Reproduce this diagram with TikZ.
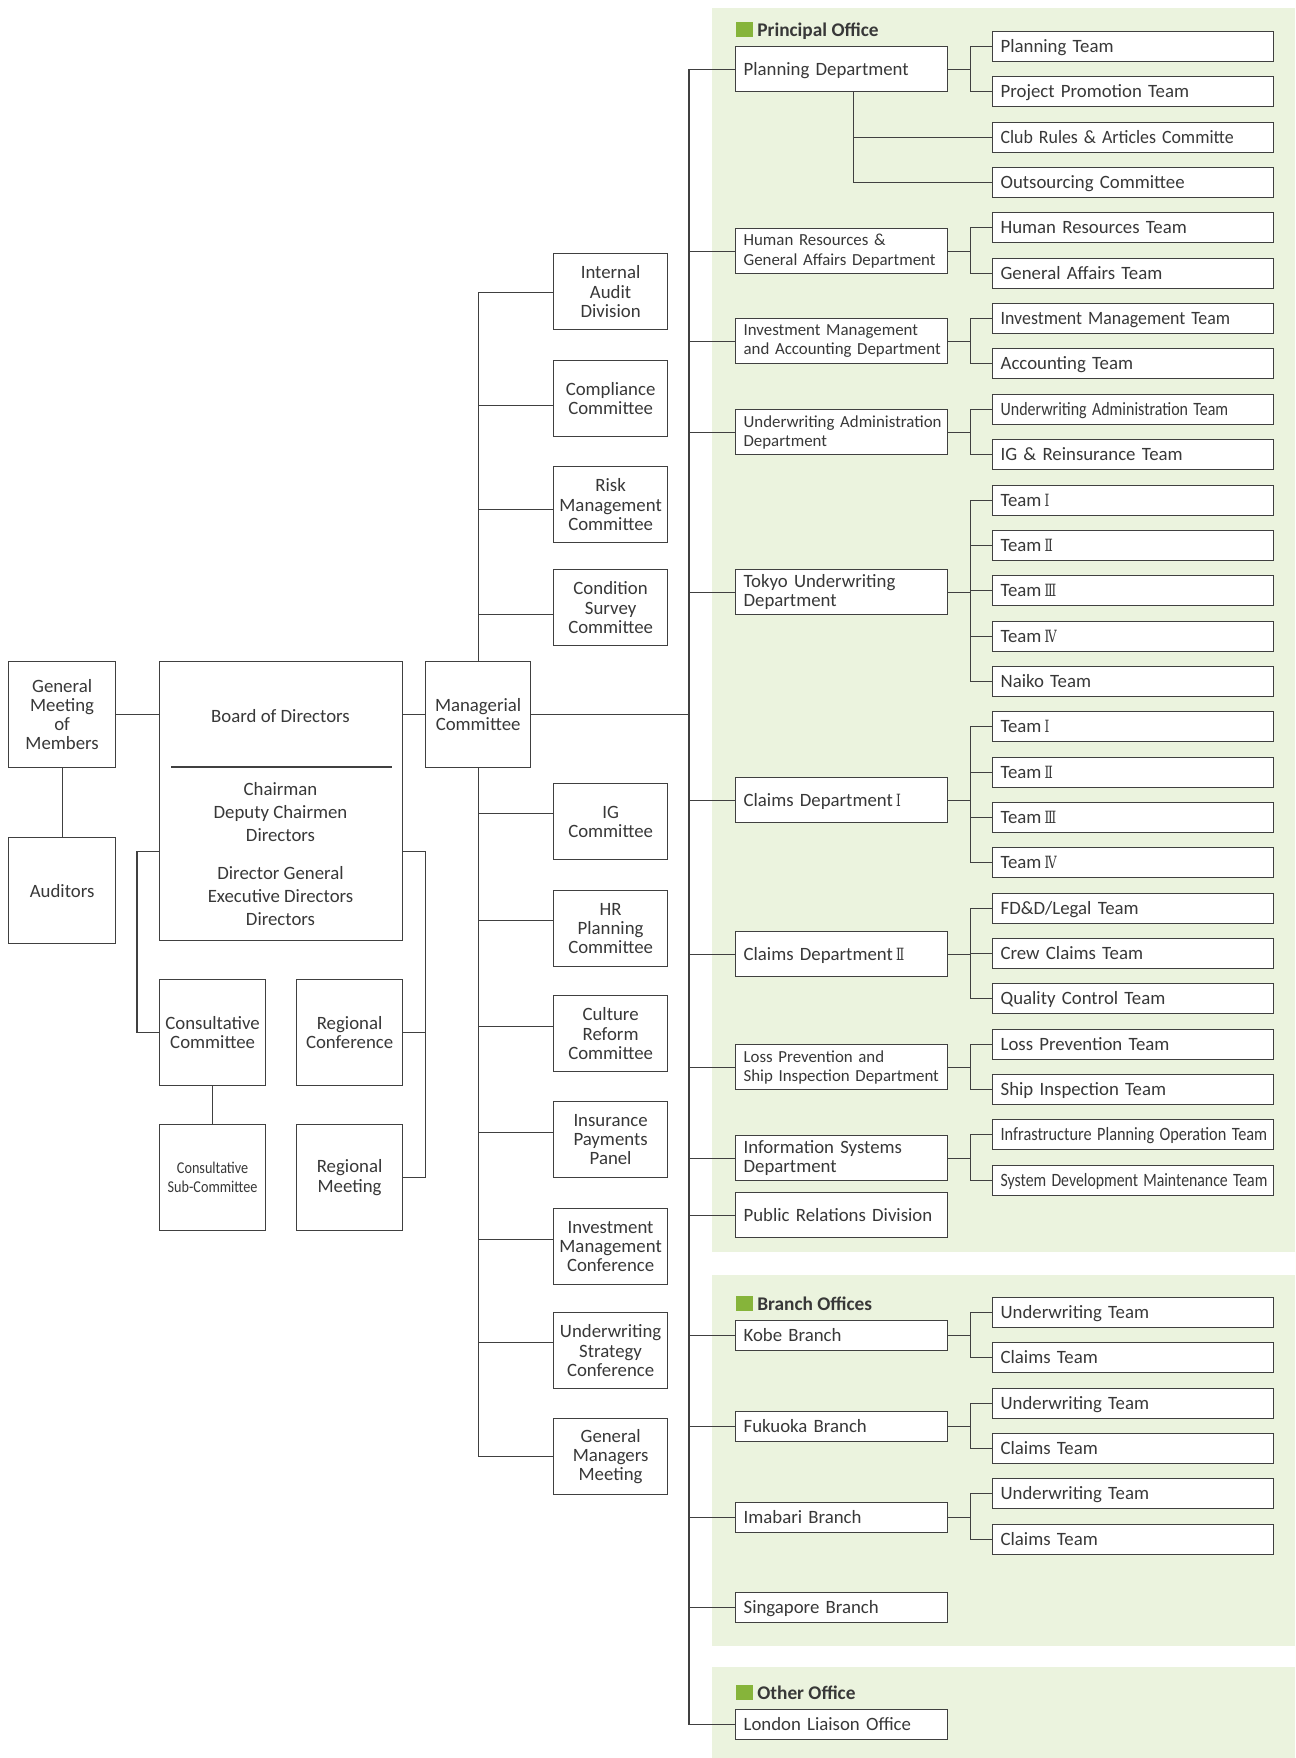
\documentclass[tikz,border=0pt]{standalone}
\usepackage{fontspec}
\usepackage{graphicx}
\setmainfont{Carlito}
\newfontfamily\rmn{DejaVu Serif}
\usetikzlibrary{calc}
\definecolor{panel}{HTML}{EBF3DE}
\definecolor{sq}{HTML}{86B43A}
\definecolor{ln}{HTML}{404040}
\definecolor{tx}{HTML}{383838}
\newcommand\fs{\fontsize{10.7}{10.9}\selectfont}
\newcommand\fsb{\fontsize{9.6}{10.9}\selectfont}
\newcommand\fsl{\fontsize{10.7}{13.1}\selectfont}
\newcommand\sx[2]{\scalebox{#1}[1]{#2}}
\newcommand\rn[1]{\,{\rmn\fontsize{9.6}{10}\selectfont\sx{0.72}{#1}}}
\newcommand\rI{\rn{Ⅰ}}
\newcommand\rII{\rn{Ⅱ}}
\newcommand\rIII{\rn{Ⅲ}}
\newcommand\rIV{\rn{Ⅳ}}
\begin{document}
\begin{tikzpicture}[x=0.02cm,y=-0.02cm,
  every node/.style={text=tx},
  bx/.style={draw=ln,line width=0.7pt,fill=white,inner sep=0pt,font=\fs},
  sqbox/.style={bx,anchor=north west,minimum width=2.14cm,minimum height=2.12cm,align=center},
  midbox/.style={bx,anchor=north west,minimum width=2.28cm,minimum height=1.52cm,align=center},
  dept/.style={bx,anchor=north west,text width=3.92cm,inner xsep=0.16cm,minimum height=0.9cm,align=left},
  dept1/.style={dept,text height=0.72em,text depth=0pt},
  deptsm/.style={dept,font=\fsb},
  brn/.style={dept1,minimum height=0.6cm},
  team/.style={bx,anchor=north west,text width=5.3cm,inner xsep=0.16cm,minimum height=0.6cm,align=left,text height=0.72em,text depth=0pt},
  cn/.style={draw=ln,line width=0.6pt},
  ttl/.style={anchor=base west,inner sep=0pt,font=\bfseries\fontsize{11}{11}\selectfont,text=tx},
  sqmark/.style={fill=sq,inner sep=0pt,minimum width=0.34cm,minimum height=0.3cm,anchor=north west}]
\useasboundingbox (0,0) rectangle (1295,1758);
% panels
\fill[panel] (712,8) rectangle (1295,1252);
\fill[panel] (712,1275) rectangle (1295,1646);
\fill[panel] (712,1667) rectangle (1295,1758);
\node[sqmark] (m1) at (736,22) {};
\node[ttl] (h1) at (757,36) {Principal Office};
\node[sqmark] (m2) at (736,1296) {};
\node[ttl] (h2) at (757,1310) {Branch Offices};
\node[sqmark] (m3) at (736,1685) {};
\node[ttl] (h3) at (757,1699) {Other Office};

% left part
\node[sqbox] (gm) at (8,661) {General\\Meeting\\of\\Members};
\node[sqbox] (aud) at (8,837) {Auditors};
\node[bx,anchor=north west,minimum width=4.86cm,minimum height=5.58cm] (board) at (159,661) {};
\node[inner sep=0pt,font=\fs] (bod) at (280.5,716) {Board of Directors};
\draw[ln,line width=0.6pt] ($(board.north west)+(12,106)$) -- ($(board.north east)+(-11,106)$);
\node[inner sep=0pt,font=\fsl,align=center] (bl1) at (280.5,812) {Chairman\\Deputy Chairmen\\Directors};
\node[inner sep=0pt,font=\fsl,align=center] (bl2) at (280.5,896) {Director General\\Executive Directors\\Directors};
\node[sqbox,minimum width=2.1cm] (mgr) at (425,661) {Managerial\\Committee};
\node[sqbox,minimum width=2.12cm] (cc) at (159,979) {Consultative\\Committee};
\node[sqbox,minimum width=2.12cm] (rc) at (296,979) {Regional\\Conference};
\node[sqbox,minimum width=2.12cm,font=\fontsize{9.4}{10.6}\selectfont] (csc) at (159,1124) {\sx{0.86}{Consultative}\\\sx{0.86}{Sub-Committee}};
\node[sqbox,minimum width=2.12cm] (rm) at (296,1124) {Regional\\Meeting};

\draw[cn] (gm.east) -- (gm.east -| board.west);
\draw[cn] (gm.south) -- (aud.north);
\draw[cn] (mgr.west -| board.east) -- (mgr.west);
\draw[cn] ($(board.south west)+(0,-90)$) -- ++(-22,0) |- (cc.west);
\draw[cn] ($(board.south east)+(0,-90)$) -- ++(22,0) |- (rc.east);
\draw[cn] ($(board.south east)+(0,-90)$) -- ++(22,0) |- (rm.east);
\draw[cn] (cc.south) -- (csc.north);

% middle column
\node[midbox] (ia) at (553,253) {Internal\\Audit\\Division};
\node[midbox] (cmp) at (553,360) {Compliance\\Committee};
\node[midbox] (rmc) at (553,466) {Risk\\Management\\Committee};
\node[midbox] (csv) at (553,569) {Condition\\Survey\\Committee};
\node[midbox] (ig) at (553,783) {IG\\Committee};
\node[midbox] (hrp) at (553,890) {HR\\Planning\\Committee};
\node[midbox] (crc) at (553,995) {Culture\\Reform\\Committee};
\node[midbox] (ipp) at (553,1101) {Insurance\\Payments\\Panel};
\node[midbox] (imc) at (553,1208) {Investment\\Management\\Conference};
\node[midbox] (usc) at (553,1312) {Underwriting\\Strategy\\Conference};
\node[midbox] (gmm) at (553,1418) {General\\Managers\\Meeting};

\draw[cn] ($(ia.west)+(0,1)$) -| (mgr.north);
\draw[cn] ($(cmp.west)+(0,7)$) -| (mgr.north);
\draw[cn] ($(rmc.west)+(0,5)$) -| (mgr.north);
\draw[cn] ($(csv.west)+(0,7)$) -| (mgr.north);
\draw[cn] (mgr.south) |- ($(ig.west)+(0,-8)$);
\draw[cn] (mgr.south) |- ($(hrp.west)+(0,-8)$);
\draw[cn] (mgr.south) |- ($(crc.west)+(0,-7)$);
\draw[cn] (mgr.south) |- ($(ipp.west)+(0,-7)$);
\draw[cn] (mgr.south) |- ($(imc.west)+(0,-7)$);
\draw[cn] (mgr.south) |- ($(usc.west)+(0,-8)$);
\draw[cn] (mgr.south) |- (gmm.west);

% departments
\coordinate (trunk) at (689,0);
\node[dept1] (pd) at (735,46) {Planning Department};
\node[deptsm] (hr) at (735,228) {\mbox{Human Resources \&}\\\mbox{General Affairs Department}};
\node[deptsm] (im) at (735,318) {\mbox{Investment Management}\\\mbox{and Accounting Department}};
\node[deptsm] (uwa) at (735,409) {\mbox{Underwriting Administration}\\\mbox{Department}};
\node[dept] (tuw) at (735,569) {Tokyo Underwriting\\Department};
\node[dept1] (c1) at (735,777) {Claims Department\rI};
\node[dept1] (c2) at (735,931) {Claims Department\rII};
\node[deptsm] (lp) at (735,1044) {\mbox{Loss Prevention and}\\\mbox{Ship Inspection Department}};
\node[dept] (is) at (735,1135) {Information Systems\\Department};
\node[dept1] (pr) at (735,1192) {Public Relations Division};
\node[brn] (kobe) at (735,1320) {Kobe Branch};
\node[brn] (fuk) at (735,1411) {Fukuoka Branch};
\node[brn] (ima) at (735,1502) {Imabari Branch};
\node[brn] (sin) at (735,1592) {Singapore Branch};
\node[brn] (lon) at (735,1709) {London Liaison Office};

\draw[cn] (mgr.east) -- (mgr.east -| trunk);
\draw[cn] (pd.west -| trunk) -- (lon.west -| trunk);
\foreach \d in {pd,hr,im,uwa,tuw,c1,c2,lp,is,pr,kobe,fuk,ima,sin,lon}
  \draw[cn] (\d.west) -- (\d.west -| trunk);

% teams
\foreach \t [count=\i from 0] in {
  {Planning Team},{Project Promotion Team},{\sx{0.95}{Club Rules \& Articles Committe}},{Outsourcing Committee},
  {Human Resources Team},{General Affairs Team},{\sx{0.95}{Investment Management Team}},{Accounting Team},
  {\sx{0.85}{Underwriting Administration Team}},{IG \& Reinsurance Team},
  {Team\rI},{Team\rII},{Team\rIII},{Team\rIV},{Naiko Team},
  {Team\rI},{Team\rII},{Team\rIII},{Team\rIV},
  {FD\&D/Legal Team},{Crew Claims Team},{Quality Control Team},
  {Loss Prevention Team},{Ship Inspection Team},
  {\sx{0.867}{Infrastructure Planning Operation Team}},{\sx{0.84}{System Development Maintenance Team}}}
  \node[team] (t\i) at (992,{round(31+45.35*\i)}) {\t};
\foreach \t [count=\i from 0] in {{Underwriting Team},{Claims Team},{Underwriting Team},{Claims Team},{Underwriting Team},{Claims Team}}
  \node[team] (b\i) at (992,{round(1297+45.35*\i)}) {\t};

\draw[cn] (pd.east) -- ++(22,0) |- (t0.west);
\draw[cn] (pd.east) -- ++(22,0) |- (t1.west);
\draw[cn] ($(pd.south)+(12,0)$) |- (t2.west);
\draw[cn] ($(pd.south)+(12,0)$) |- (t3.west);
\foreach \d/\a/\b in {hr/4/5,im/6/7,uwa/8/9,lp/22/23,is/24/25}{
  \draw[cn] (\d.east) -- ++(22,0) |- (t\a.west);
  \draw[cn] (\d.east) -- ++(22,0) |- (t\b.west);}
\foreach \i in {10,...,14} \draw[cn] (tuw.east) -- ++(22,0) |- (t\i.west);
\foreach \i in {15,...,18} \draw[cn] (c1.east) -- ++(22,0) |- (t\i.west);
\foreach \i in {19,...,21} \draw[cn] (c2.east) -- ++(22,0) |- (t\i.west);
\foreach \d/\a/\b in {kobe/0/1,fuk/2/3,ima/4/5}{
  \draw[cn] (\d.east) -- ++(22,0) |- (b\a.west);
  \draw[cn] (\d.east) -- ++(22,0) |- (b\b.west);}
\end{tikzpicture}
\end{document}
